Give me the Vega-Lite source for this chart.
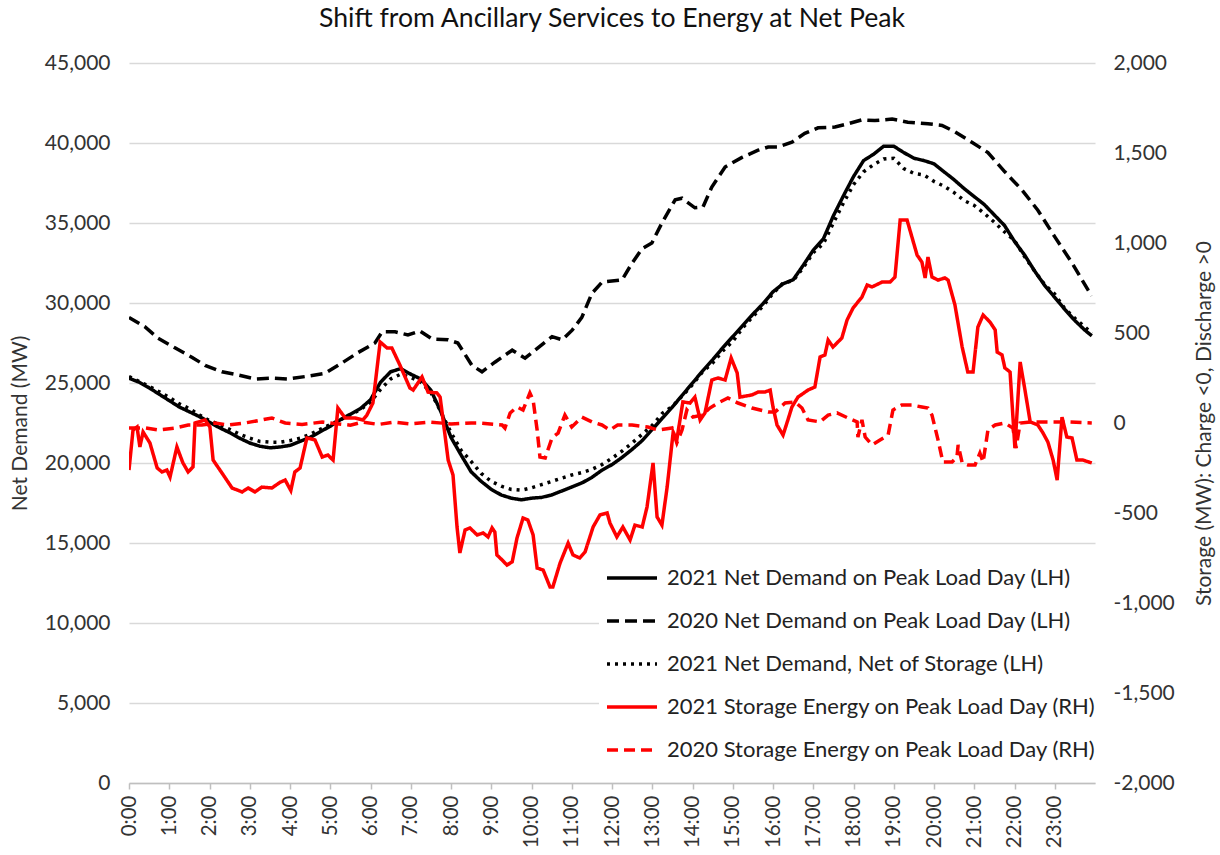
{
  "$schema": "https://vega.github.io/schema/vega-lite/v6.json",
  "width": 966,
  "height": 720,
  "autosize": "none",
  "padding": {"left": 129, "top": 63, "right": 125, "bottom": 72},
  "background": "white",
  "config": {
    "font": "Lato",
    "view": {"stroke": null},
    "axis": {"labelFont": "Lato", "titleFont": "Lato", "labelColor": "#333333", "titleColor": "#333333", "titleFontWeight": "normal"}
  },
  "title": {"text": "Shift from Ancillary Services to Energy at Net Peak", "font": "Lato", "fontSize": 26.6, "fontWeight": "normal", "color": "#111111", "anchor": "middle", "offset": 19},
  "datasets": {
    "lh": [
      {"t":0,"s":"n21","v":25300},{"t":0.25,"s":"n21","v":25050},{"t":0.5,"s":"n21","v":24700},{"t":0.75,"s":"n21","v":24300},{"t":1,"s":"n21","v":23900},{"t":1.25,"s":"n21","v":23500},{"t":1.5,"s":"n21","v":23200},{"t":1.75,"s":"n21","v":22900},{"t":2,"s":"n21","v":22550},{"t":2.25,"s":"n21","v":22200},{"t":2.5,"s":"n21","v":21900},{"t":2.75,"s":"n21","v":21550},{"t":3,"s":"n21","v":21250},{"t":3.25,"s":"n21","v":21050},{"t":3.5,"s":"n21","v":20950},{"t":3.75,"s":"n21","v":21000},{"t":4,"s":"n21","v":21100},{"t":4.25,"s":"n21","v":21350},{"t":4.5,"s":"n21","v":21600},{"t":4.75,"s":"n21","v":21950},{"t":5,"s":"n21","v":22300},{"t":5.25,"s":"n21","v":22700},{"t":5.5,"s":"n21","v":23050},{"t":5.75,"s":"n21","v":23400},{"t":6,"s":"n21","v":23950},{"t":6.25,"s":"n21","v":25050},{"t":6.5,"s":"n21","v":25700},{"t":6.75,"s":"n21","v":25900},{"t":7,"s":"n21","v":25550},{"t":7.25,"s":"n21","v":25250},{"t":7.5,"s":"n21","v":24550},{"t":7.75,"s":"n21","v":23200},{"t":8,"s":"n21","v":21600},{"t":8.25,"s":"n21","v":20500},{"t":8.5,"s":"n21","v":19450},{"t":8.75,"s":"n21","v":18850},{"t":9,"s":"n21","v":18350},{"t":9.25,"s":"n21","v":18000},{"t":9.5,"s":"n21","v":17800},{"t":9.75,"s":"n21","v":17700},{"t":10,"s":"n21","v":17800},{"t":10.25,"s":"n21","v":17850},{"t":10.5,"s":"n21","v":18000},{"t":10.75,"s":"n21","v":18250},{"t":11,"s":"n21","v":18500},{"t":11.25,"s":"n21","v":18750},{"t":11.5,"s":"n21","v":19100},{"t":11.75,"s":"n21","v":19550},{"t":12,"s":"n21","v":19900},{"t":12.25,"s":"n21","v":20350},{"t":12.5,"s":"n21","v":20850},{"t":12.75,"s":"n21","v":21400},{"t":13,"s":"n21","v":22100},{"t":13.25,"s":"n21","v":22800},{"t":13.5,"s":"n21","v":23500},{"t":13.75,"s":"n21","v":24250},{"t":14,"s":"n21","v":25000},{"t":14.25,"s":"n21","v":25750},{"t":14.5,"s":"n21","v":26450},{"t":14.75,"s":"n21","v":27200},{"t":15,"s":"n21","v":27900},{"t":15.25,"s":"n21","v":28600},{"t":15.5,"s":"n21","v":29300},{"t":15.75,"s":"n21","v":29950},{"t":16,"s":"n21","v":30700},{"t":16.25,"s":"n21","v":31200},{"t":16.5,"s":"n21","v":31450},{"t":16.75,"s":"n21","v":32350},{"t":17,"s":"n21","v":33300},{"t":17.25,"s":"n21","v":34000},{"t":17.5,"s":"n21","v":35450},{"t":17.75,"s":"n21","v":36700},{"t":18,"s":"n21","v":37900},{"t":18.25,"s":"n21","v":38900},{"t":18.5,"s":"n21","v":39300},{"t":18.75,"s":"n21","v":39800},{"t":19,"s":"n21","v":39800},{"t":19.25,"s":"n21","v":39400},{"t":19.5,"s":"n21","v":39050},{"t":19.75,"s":"n21","v":38900},{"t":20,"s":"n21","v":38700},{"t":20.25,"s":"n21","v":38200},{"t":20.5,"s":"n21","v":37700},{"t":20.75,"s":"n21","v":37150},{"t":21,"s":"n21","v":36650},{"t":21.25,"s":"n21","v":36150},{"t":21.5,"s":"n21","v":35500},{"t":21.75,"s":"n21","v":34850},{"t":22,"s":"n21","v":33850},{"t":22.25,"s":"n21","v":33000},{"t":22.5,"s":"n21","v":32000},{"t":22.75,"s":"n21","v":31100},{"t":23,"s":"n21","v":30350},{"t":23.25,"s":"n21","v":29600},{"t":23.5,"s":"n21","v":28900},{"t":23.75,"s":"n21","v":28300},{"t":23.92,"s":"n21","v":27950},
      {"t":0,"s":"n20","v":29100},{"t":0.4,"s":"n20","v":28500},{"t":0.72,"s":"n20","v":27800},{"t":1.14,"s":"n20","v":27200},{"t":1.57,"s":"n20","v":26600},{"t":1.89,"s":"n20","v":26100},{"t":2.31,"s":"n20","v":25700},{"t":2.71,"s":"n20","v":25500},{"t":3.13,"s":"n20","v":25250},{"t":3.55,"s":"n20","v":25300},{"t":3.95,"s":"n20","v":25250},{"t":4.37,"s":"n20","v":25400},{"t":4.87,"s":"n20","v":25600},{"t":5.29,"s":"n20","v":26250},{"t":5.69,"s":"n20","v":26900},{"t":6.11,"s":"n20","v":27500},{"t":6.29,"s":"n20","v":28200},{"t":6.61,"s":"n20","v":28200},{"t":6.93,"s":"n20","v":28000},{"t":7.23,"s":"n20","v":28250},{"t":7.53,"s":"n20","v":27750},{"t":7.93,"s":"n20","v":27700},{"t":8.17,"s":"n20","v":27500},{"t":8.52,"s":"n20","v":26100},{"t":8.77,"s":"n20","v":25700},{"t":9.09,"s":"n20","v":26300},{"t":9.52,"s":"n20","v":27050},{"t":9.84,"s":"n20","v":26550},{"t":10.16,"s":"n20","v":27200},{"t":10.51,"s":"n20","v":27900},{"t":10.76,"s":"n20","v":27700},{"t":11.01,"s":"n20","v":28300},{"t":11.25,"s":"n20","v":29100},{"t":11.5,"s":"n20","v":30600},{"t":11.75,"s":"n20","v":31300},{"t":12.25,"s":"n20","v":31450},{"t":12.5,"s":"n20","v":32500},{"t":12.75,"s":"n20","v":33400},{"t":12.99,"s":"n20","v":33750},{"t":13.24,"s":"n20","v":35000},{"t":13.57,"s":"n20","v":36450},{"t":13.74,"s":"n20","v":36550},{"t":14.06,"s":"n20","v":35950},{"t":14.26,"s":"n20","v":36000},{"t":14.48,"s":"n20","v":37250},{"t":14.81,"s":"n20","v":38500},{"t":15.23,"s":"n20","v":39100},{"t":15.63,"s":"n20","v":39550},{"t":15.88,"s":"n20","v":39750},{"t":16.12,"s":"n20","v":39750},{"t":16.47,"s":"n20","v":40050},{"t":16.79,"s":"n20","v":40600},{"t":17.12,"s":"n20","v":40950},{"t":17.54,"s":"n20","v":41000},{"t":17.86,"s":"n20","v":41200},{"t":18.21,"s":"n20","v":41450},{"t":18.53,"s":"n20","v":41400},{"t":18.96,"s":"n20","v":41500},{"t":19.35,"s":"n20","v":41300},{"t":19.85,"s":"n20","v":41200},{"t":20.2,"s":"n20","v":41100},{"t":20.52,"s":"n20","v":40700},{"t":20.94,"s":"n20","v":40050},{"t":21.34,"s":"n20","v":39400},{"t":21.76,"s":"n20","v":38200},{"t":22.19,"s":"n20","v":37050},{"t":22.58,"s":"n20","v":35800},{"t":23.01,"s":"n20","v":34100},{"t":23.43,"s":"n20","v":32500},{"t":23.83,"s":"n20","v":30800},{"t":23.92,"s":"n20","v":30450},
      {"t":0,"s":"ns21","v":25400},{"t":0.25,"s":"ns21","v":25100},{"t":0.5,"s":"ns21","v":24800},{"t":0.75,"s":"ns21","v":24450},{"t":1,"s":"ns21","v":24100},{"t":1.25,"s":"ns21","v":23700},{"t":1.5,"s":"ns21","v":23400},{"t":1.75,"s":"ns21","v":23000},{"t":2,"s":"ns21","v":22650},{"t":2.25,"s":"ns21","v":22400},{"t":2.5,"s":"ns21","v":22100},{"t":2.75,"s":"ns21","v":21800},{"t":3,"s":"ns21","v":21550},{"t":3.25,"s":"ns21","v":21350},{"t":3.5,"s":"ns21","v":21300},{"t":3.75,"s":"ns21","v":21300},{"t":4,"s":"ns21","v":21400},{"t":4.25,"s":"ns21","v":21550},{"t":4.5,"s":"ns21","v":21800},{"t":4.75,"s":"ns21","v":22100},{"t":5,"s":"ns21","v":22400},{"t":5.25,"s":"ns21","v":22700},{"t":5.5,"s":"ns21","v":23000},{"t":5.75,"s":"ns21","v":23350},{"t":6,"s":"ns21","v":23800},{"t":6.25,"s":"ns21","v":24600},{"t":6.5,"s":"ns21","v":25250},{"t":6.75,"s":"ns21","v":25550},{"t":7,"s":"ns21","v":25350},{"t":7.25,"s":"ns21","v":25050},{"t":7.5,"s":"ns21","v":24400},{"t":7.75,"s":"ns21","v":23200},{"t":8,"s":"ns21","v":21900},{"t":8.25,"s":"ns21","v":20800},{"t":8.5,"s":"ns21","v":20100},{"t":8.75,"s":"ns21","v":19350},{"t":9,"s":"ns21","v":18850},{"t":9.25,"s":"ns21","v":18550},{"t":9.5,"s":"ns21","v":18350},{"t":9.75,"s":"ns21","v":18300},{"t":10,"s":"ns21","v":18450},{"t":10.25,"s":"ns21","v":18650},{"t":10.5,"s":"ns21","v":18850},{"t":10.75,"s":"ns21","v":19050},{"t":11,"s":"ns21","v":19250},{"t":11.25,"s":"ns21","v":19400},{"t":11.5,"s":"ns21","v":19600},{"t":11.75,"s":"ns21","v":19900},{"t":12,"s":"ns21","v":20300},{"t":12.25,"s":"ns21","v":20750},{"t":12.5,"s":"ns21","v":21250},{"t":12.75,"s":"ns21","v":21800},{"t":13,"s":"ns21","v":22350},{"t":13.25,"s":"ns21","v":23100},{"t":13.5,"s":"ns21","v":23550},{"t":13.75,"s":"ns21","v":24200},{"t":14,"s":"ns21","v":24900},{"t":14.25,"s":"ns21","v":25700},{"t":14.5,"s":"ns21","v":26250},{"t":14.75,"s":"ns21","v":27000},{"t":15,"s":"ns21","v":27600},{"t":15.25,"s":"ns21","v":28450},{"t":15.5,"s":"ns21","v":29150},{"t":15.75,"s":"ns21","v":29800},{"t":16,"s":"ns21","v":30600},{"t":16.25,"s":"ns21","v":31250},{"t":16.5,"s":"ns21","v":31400},{"t":16.75,"s":"ns21","v":32200},{"t":17,"s":"ns21","v":33150},{"t":17.25,"s":"ns21","v":33700},{"t":17.5,"s":"ns21","v":35000},{"t":17.75,"s":"ns21","v":36250},{"t":18,"s":"ns21","v":37400},{"t":18.25,"s":"ns21","v":38200},{"t":18.5,"s":"ns21","v":38650},{"t":18.75,"s":"ns21","v":39000},{"t":19,"s":"ns21","v":39050},{"t":19.25,"s":"ns21","v":38400},{"t":19.5,"s":"ns21","v":38100},{"t":19.75,"s":"ns21","v":38000},{"t":20,"s":"ns21","v":37600},{"t":20.25,"s":"ns21","v":37300},{"t":20.5,"s":"ns21","v":36900},{"t":20.75,"s":"ns21","v":36400},{"t":21,"s":"ns21","v":36100},{"t":21.25,"s":"ns21","v":35600},{"t":21.5,"s":"ns21","v":35050},{"t":21.75,"s":"ns21","v":34450},{"t":22,"s":"ns21","v":33900},{"t":22.25,"s":"ns21","v":32900},{"t":22.5,"s":"ns21","v":32000},{"t":22.75,"s":"ns21","v":31150},{"t":23,"s":"ns21","v":30550},{"t":23.25,"s":"ns21","v":29650},{"t":23.5,"s":"ns21","v":29050},{"t":23.75,"s":"ns21","v":28500},{"t":23.92,"s":"ns21","v":28100}
    ],
    "rh": [
      {"t":0,"s":"s21","v":-261},{"t":0.1,"s":"s21","v":-39},{"t":0.2,"s":"s21","v":-22},{"t":0.27,"s":"s21","v":-133},{"t":0.35,"s":"s21","v":-50},{"t":0.52,"s":"s21","v":-111},{"t":0.7,"s":"s21","v":-250},{"t":0.82,"s":"s21","v":-272},{"t":0.94,"s":"s21","v":-261},{"t":1.02,"s":"s21","v":-300},{"t":1.19,"s":"s21","v":-133},{"t":1.34,"s":"s21","v":-222},{"t":1.47,"s":"s21","v":-272},{"t":1.59,"s":"s21","v":-244},{"t":1.64,"s":"s21","v":0},{"t":1.89,"s":"s21","v":17},{"t":2.01,"s":"s21","v":-22},{"t":2.09,"s":"s21","v":-206},{"t":2.31,"s":"s21","v":-278},{"t":2.56,"s":"s21","v":-361},{"t":2.81,"s":"s21","v":-383},{"t":2.96,"s":"s21","v":-361},{"t":3.13,"s":"s21","v":-383},{"t":3.3,"s":"s21","v":-356},{"t":3.55,"s":"s21","v":-361},{"t":3.75,"s":"s21","v":-330},{"t":3.88,"s":"s21","v":-317},{"t":4.02,"s":"s21","v":-375},{"t":4.12,"s":"s21","v":-272},{"t":4.25,"s":"s21","v":-250},{"t":4.42,"s":"s21","v":-83},{"t":4.62,"s":"s21","v":-94},{"t":4.8,"s":"s21","v":-189},{"t":4.94,"s":"s21","v":-178},{"t":5.07,"s":"s21","v":-206},{"t":5.19,"s":"s21","v":83},{"t":5.37,"s":"s21","v":28},{"t":5.61,"s":"s21","v":28},{"t":5.81,"s":"s21","v":17},{"t":5.91,"s":"s21","v":44},{"t":6.06,"s":"s21","v":111},{"t":6.24,"s":"s21","v":450},{"t":6.41,"s":"s21","v":417},{"t":6.53,"s":"s21","v":417},{"t":6.73,"s":"s21","v":322},{"t":6.98,"s":"s21","v":194},{"t":7.06,"s":"s21","v":183},{"t":7.28,"s":"s21","v":256},{"t":7.43,"s":"s21","v":172},{"t":7.65,"s":"s21","v":167},{"t":7.73,"s":"s21","v":144},{"t":7.93,"s":"s21","v":-206},{"t":8.05,"s":"s21","v":-289},{"t":8.15,"s":"s21","v":-578},{"t":8.22,"s":"s21","v":-722},{"t":8.35,"s":"s21","v":-594},{"t":8.47,"s":"s21","v":-583},{"t":8.65,"s":"s21","v":-622},{"t":8.8,"s":"s21","v":-611},{"t":8.92,"s":"s21","v":-633},{"t":9.02,"s":"s21","v":-583},{"t":9.09,"s":"s21","v":-606},{"t":9.14,"s":"s21","v":-733},{"t":9.27,"s":"s21","v":-761},{"t":9.39,"s":"s21","v":-789},{"t":9.52,"s":"s21","v":-772},{"t":9.64,"s":"s21","v":-639},{"t":9.79,"s":"s21","v":-528},{"t":9.91,"s":"s21","v":-539},{"t":10.04,"s":"s21","v":-622},{"t":10.14,"s":"s21","v":-806},{"t":10.29,"s":"s21","v":-817},{"t":10.46,"s":"s21","v":-911},{"t":10.53,"s":"s21","v":-911},{"t":10.71,"s":"s21","v":-778},{"t":10.91,"s":"s21","v":-667},{"t":11.03,"s":"s21","v":-733},{"t":11.2,"s":"s21","v":-750},{"t":11.33,"s":"s21","v":-717},{"t":11.53,"s":"s21","v":-578},{"t":11.7,"s":"s21","v":-511},{"t":11.88,"s":"s21","v":-500},{"t":11.95,"s":"s21","v":-556},{"t":12.12,"s":"s21","v":-633},{"t":12.27,"s":"s21","v":-578},{"t":12.45,"s":"s21","v":-650},{"t":12.57,"s":"s21","v":-567},{"t":12.75,"s":"s21","v":-578},{"t":12.87,"s":"s21","v":-467},{"t":13.02,"s":"s21","v":-222},{"t":13.12,"s":"s21","v":-522},{"t":13.24,"s":"s21","v":-567},{"t":13.37,"s":"s21","v":-356},{"t":13.52,"s":"s21","v":-50},{"t":13.61,"s":"s21","v":-94},{"t":13.76,"s":"s21","v":117},{"t":13.94,"s":"s21","v":111},{"t":14.06,"s":"s21","v":144},{"t":14.19,"s":"s21","v":17},{"t":14.31,"s":"s21","v":56},{"t":14.48,"s":"s21","v":239},{"t":14.63,"s":"s21","v":250},{"t":14.81,"s":"s21","v":239},{"t":14.96,"s":"s21","v":361},{"t":15.11,"s":"s21","v":278},{"t":15.18,"s":"s21","v":144},{"t":15.48,"s":"s21","v":156},{"t":15.63,"s":"s21","v":172},{"t":15.8,"s":"s21","v":172},{"t":15.93,"s":"s21","v":183},{"t":16,"s":"s21","v":89},{"t":16.1,"s":"s21","v":-11},{"t":16.25,"s":"s21","v":-67},{"t":16.37,"s":"s21","v":17},{"t":16.47,"s":"s21","v":89},{"t":16.62,"s":"s21","v":144},{"t":16.87,"s":"s21","v":183},{"t":17.04,"s":"s21","v":200},{"t":17.17,"s":"s21","v":367},{"t":17.29,"s":"s21","v":378},{"t":17.37,"s":"s21","v":461},{"t":17.49,"s":"s21","v":422},{"t":17.71,"s":"s21","v":472},{"t":17.84,"s":"s21","v":572},{"t":17.99,"s":"s21","v":639},{"t":18.21,"s":"s21","v":700},{"t":18.34,"s":"s21","v":767},{"t":18.46,"s":"s21","v":756},{"t":18.71,"s":"s21","v":783},{"t":18.91,"s":"s21","v":783},{"t":19.03,"s":"s21","v":811},{"t":19.16,"s":"s21","v":1128},{"t":19.33,"s":"s21","v":1128},{"t":19.58,"s":"s21","v":933},{"t":19.7,"s":"s21","v":894},{"t":19.78,"s":"s21","v":806},{"t":19.85,"s":"s21","v":922},{"t":19.95,"s":"s21","v":811},{"t":20.1,"s":"s21","v":794},{"t":20.27,"s":"s21","v":806},{"t":20.35,"s":"s21","v":794},{"t":20.52,"s":"s21","v":656},{"t":20.7,"s":"s21","v":422},{"t":20.84,"s":"s21","v":283},{"t":20.97,"s":"s21","v":283},{"t":21.09,"s":"s21","v":533},{"t":21.22,"s":"s21","v":600},{"t":21.39,"s":"s21","v":561},{"t":21.52,"s":"s21","v":517},{"t":21.57,"s":"s21","v":394},{"t":21.69,"s":"s21","v":378},{"t":21.76,"s":"s21","v":306},{"t":21.89,"s":"s21","v":283},{"t":22.01,"s":"s21","v":-139},{"t":22.14,"s":"s21","v":339},{"t":22.26,"s":"s21","v":183},{"t":22.39,"s":"s21","v":6},{"t":22.58,"s":"s21","v":-11},{"t":22.71,"s":"s21","v":-56},{"t":22.83,"s":"s21","v":-106},{"t":22.96,"s":"s21","v":-206},{"t":23.06,"s":"s21","v":-317},{"t":23.18,"s":"s21","v":33},{"t":23.3,"s":"s21","v":-78},{"t":23.43,"s":"s21","v":-83},{"t":23.55,"s":"s21","v":-206},{"t":23.7,"s":"s21","v":-206},{"t":23.92,"s":"s21","v":-222},
      {"t":0,"s":"s20","v":-28},{"t":0.42,"s":"s20","v":-28},{"t":0.72,"s":"s20","v":-39},{"t":1.14,"s":"s20","v":-28},{"t":1.47,"s":"s20","v":-11},{"t":1.81,"s":"s20","v":-11},{"t":2.14,"s":"s20","v":0},{"t":2.46,"s":"s20","v":-11},{"t":2.88,"s":"s20","v":0},{"t":3.3,"s":"s20","v":17},{"t":3.55,"s":"s20","v":28},{"t":3.88,"s":"s20","v":0},{"t":4.3,"s":"s20","v":-8},{"t":4.8,"s":"s20","v":5},{"t":5.5,"s":"s20","v":-12},{"t":5.8,"s":"s20","v":5},{"t":6.2,"s":"s20","v":-8},{"t":6.6,"s":"s20","v":5},{"t":7,"s":"s20","v":-5},{"t":7.5,"s":"s20","v":5},{"t":8,"s":"s20","v":-5},{"t":8.5,"s":"s20","v":0},{"t":8.67,"s":"s20","v":0},{"t":9.27,"s":"s20","v":-11},{"t":9.34,"s":"s20","v":-28},{"t":9.47,"s":"s20","v":56},{"t":9.64,"s":"s20","v":89},{"t":9.79,"s":"s20","v":72},{"t":9.96,"s":"s20","v":167},{"t":10.04,"s":"s20","v":128},{"t":10.14,"s":"s20","v":-39},{"t":10.21,"s":"s20","v":-189},{"t":10.34,"s":"s20","v":-194},{"t":10.51,"s":"s20","v":-83},{"t":10.66,"s":"s20","v":-56},{"t":10.83,"s":"s20","v":44},{"t":11,"s":"s20","v":-22},{"t":11.25,"s":"s20","v":33},{"t":11.5,"s":"s20","v":6},{"t":11.75,"s":"s20","v":-11},{"t":11.95,"s":"s20","v":-39},{"t":12.14,"s":"s20","v":-11},{"t":12.5,"s":"s20","v":-11},{"t":12.89,"s":"s20","v":-22},{"t":13.14,"s":"s20","v":-39},{"t":13.49,"s":"s20","v":-28},{"t":13.61,"s":"s20","v":-111},{"t":13.74,"s":"s20","v":-39},{"t":13.86,"s":"s20","v":72},{"t":14.01,"s":"s20","v":33},{"t":14.24,"s":"s20","v":44},{"t":14.43,"s":"s20","v":83},{"t":14.63,"s":"s20","v":111},{"t":14.88,"s":"s20","v":139},{"t":15.13,"s":"s20","v":111},{"t":15.48,"s":"s20","v":83},{"t":15.88,"s":"s20","v":61},{"t":16.05,"s":"s20","v":61},{"t":16.3,"s":"s20","v":111},{"t":16.55,"s":"s20","v":117},{"t":16.72,"s":"s20","v":83},{"t":16.87,"s":"s20","v":17},{"t":17.17,"s":"s20","v":6},{"t":17.37,"s":"s20","v":44},{"t":17.59,"s":"s20","v":56},{"t":17.86,"s":"s20","v":28},{"t":18.09,"s":"s20","v":6},{"t":18.11,"s":"s20","v":-78},{"t":18.21,"s":"s20","v":17},{"t":18.29,"s":"s20","v":-78},{"t":18.46,"s":"s20","v":-122},{"t":18.66,"s":"s20","v":-94},{"t":18.86,"s":"s20","v":-67},{"t":18.98,"s":"s20","v":72},{"t":19.2,"s":"s20","v":100},{"t":19.45,"s":"s20","v":100},{"t":19.7,"s":"s20","v":89},{"t":19.85,"s":"s20","v":83},{"t":19.95,"s":"s20","v":44},{"t":20.1,"s":"s20","v":-94},{"t":20.22,"s":"s20","v":-217},{"t":20.45,"s":"s20","v":-217},{"t":20.57,"s":"s20","v":-189},{"t":20.6,"s":"s20","v":-122},{"t":20.7,"s":"s20","v":-222},{"t":20.84,"s":"s20","v":-233},{"t":21.02,"s":"s20","v":-233},{"t":21.14,"s":"s20","v":-167},{"t":21.22,"s":"s20","v":-217},{"t":21.34,"s":"s20","v":-39},{"t":21.52,"s":"s20","v":-11},{"t":21.76,"s":"s20","v":0},{"t":21.96,"s":"s20","v":-28},{"t":22.04,"s":"s20","v":-139},{"t":22.14,"s":"s20","v":0},{"t":22.44,"s":"s20","v":6},{"t":22.93,"s":"s20","v":6},{"t":23.33,"s":"s20","v":6},{"t":23.92,"s":"s20","v":0}
    ]
  },
  "layer": [
    {
      "data": {"name": "lh"},
      "mark": {"type": "line", "strokeWidth": 3.5, "clip": true},
      "encoding": {
        "x": {"field": "t", "type": "quantitative", "scale": {"domain": [0, 24], "nice": false, "zero": false},
          "axis": {"values": [0,1,2,3,4,5,6,7,8,9,10,11,12,13,14,15,16,17,18,19,20,21,22,23], "labelExpr": "datum.value + ':00'", "labelAngle": -90, "labelFontSize": 20.5, "labelPadding": 6, "grid": false, "domainColor": "#bfbfbf", "domainWidth": 1.5, "tickColor": "#bfbfbf", "tickWidth": 1.5, "tickSize": 6, "title": null}},
        "y": {"field": "v", "type": "quantitative", "scale": {"domain": [0, 45000], "nice": false},
          "axis": {"values": [0,5000,10000,15000,20000,25000,30000,35000,40000,45000], "format": ",.0f", "labelFontSize": 21, "labelPadding": 19, "domain": false, "ticks": false, "grid": true, "gridColor": "#d9d9d9", "gridWidth": 1.5, "title": "Net Demand (MW)", "titleFontSize": 21, "titleX": -109, "titleY": 360, "titleAngle": -90, "titleAlign": "center", "titleBaseline": "middle"}},
        "color": {"field": "s", "type": "nominal",
          "scale": {"domain": ["n21","n20","ns21","s21","s20"], "range": ["#000000","#000000","#000000","#ff0000","#ff0000"]},
          "legend": {"title": null, "orient": "none", "legendX": 470, "legendY": 482, "symbolType": "stroke", "symbolSize": 2500, "symbolStrokeWidth": 3.5, "labelFontSize": 22, "labelColor": "#222222", "labelOffset": 8, "rowPadding": 5, "fillColor": "white", "padding": 6, "labelLimit": 600,
            "labelExpr": "{'n21':'2021 Net Demand on Peak Load Day (LH)','n20':'2020 Net Demand on Peak Load Day (LH)','ns21':'2021 Net Demand, Net of Storage (LH)','s21':'2021 Storage Energy on Peak Load Day (RH)','s20':'2020 Storage Energy on Peak Load Day (RH)'}[datum.label]"}},
        "strokeDash": {"field": "s", "type": "nominal",
          "scale": {"domain": ["n21","n20","ns21","s21","s20"], "range": [[1,0],[12,6],[3,5],[1,0],[11,6]]},
          "legend": {"title": null}}
      }
    },
    {
      "layer": [
        {
          "mark": {"type": "rule", "color": "#a6a6a6", "strokeWidth": 2.5},
          "encoding": {"y": {"datum": 0, "type": "quantitative"}}
        },
        {
          "data": {"name": "rh"},
          "mark": {"type": "line", "strokeWidth": 3.5, "clip": true},
          "encoding": {
            "x": {"field": "t", "type": "quantitative"},
            "y": {"field": "v", "type": "quantitative"},
            "color": {"field": "s", "type": "nominal"},
            "strokeDash": {"field": "s", "type": "nominal"}
          }
        }
      ],
      "encoding": {
        "y": {"type": "quantitative", "scale": {"domain": [-2000, 2000], "nice": false},
          "axis": {"orient": "right", "values": [-2000,-1500,-1000,-500,0,500,1000,1500,2000], "labelExpr": "(datum.value < 0 ? '-' : '') + format(abs(datum.value), ',.0f')", "labelFontSize": 21, "labelPadding": 18, "domain": false, "ticks": false, "grid": false, "title": "Storage (MW): Charge <0, Discharge >0", "titleFontSize": 21, "titleX": 109, "titleY": 360, "titleAngle": -90, "titleAlign": "center", "titleBaseline": "middle"}}
      }
    }
  ],
  "resolve": {"scale": {"y": "independent"}}
}
